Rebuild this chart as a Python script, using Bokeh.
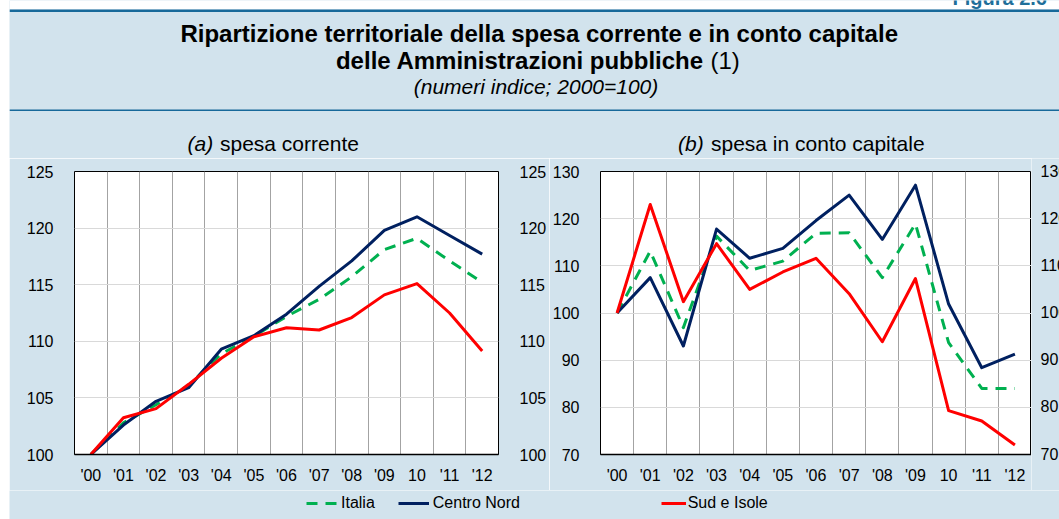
import numpy as np
from bokeh.plotting import figure
from bokeh.models import (Range1d, FixedTicker, LinearAxis, Legend, LegendItem,
                          LabelSet, ColumnDataSource, Spacer)
from bokeh.layouts import column, row
from bokeh.embed import file_html
from bokeh.resources import INLINE
from bokeh.core.properties import value

# ---------------- data ----------------
year_labels = ["'00", "'01", "'02", "'03", "'04", "'05", "'06", "'07", "'08", "'09", "10", "'11", "'12"]

corr_italia = [100, 102.8, 104.4, 106.1, 108.9, 110.45, 112.2, 113.7, 115.7, 118.1, 119.1, 117.1, 115.2]
corr_centro_nord = [100, 102.6, 104.7, 105.9, 109.3, 110.5, 112.4, 114.85, 117.1, 119.8, 121.0, 119.35, 117.7]
corr_sud_isole = [100, 103.25, 104.05, 106.2, 108.5, 110.4, 111.2, 111.0, 112.1, 114.1, 115.1, 112.5, 109.15]

cap_italia = [100, 113.1, 96.9, 116.3, 109.0, 111.0, 116.9, 117.0, 107.5, 118.9, 93.7, 84.0, 84.0]
cap_centro_nord = [100, 107.5, 93.0, 117.8, 111.6, 113.7, 119.6, 125.0, 115.6, 127.1, 101.9, 88.4, 91.3]
cap_sud_isole = [100, 123.0, 102.4, 114.7, 105.0, 108.7, 111.6, 104.1, 93.9, 107.3, 79.3, 77.1, 72.0]

corr_ticks = [100, 105, 110, 115, 120, 125]
cap_ticks = [70, 80, 90, 100, 110, 120, 130]

figure_tag = "Figura 2.6"
title_line1 = "Ripartizione territoriale della spesa corrente e in conto capitale"
title_line2 = "delle Amministrazioni pubbliche"
title_note = "(1)"
title_line3 = "(numeri indice; 2000=100)"
sub_a = ("(a)", "spesa corrente")
sub_b = ("(b)", "spesa in conto capitale")
series_names = ["Italia", "Centro Nord", "Sud e Isole"]

# ---------------- style ----------------
BG = "#D2E3ED"
LINE_BLUE = "#17699A"
GREEN = "#00B050"
NAVY = "#002060"
RED = "#FF0000"
FONT = value("Liberation Sans")
LEFT = 9          # white strip on the left
W = 1059 - LEFT   # width of the coloured box

x = list(range(len(year_labels)))

# ---------------- header ----------------
hdr = figure(width=W, height=158, x_range=Range1d(LEFT, 1059), y_range=Range1d(158, 0),
             toolbar_location=None, output_backend="svg", min_border=0,
             x_axis_location=None, y_axis_location=None)
hdr.grid.visible = False
hdr.outline_line_color = None
hdr.background_fill_color = BG
hdr.border_fill_color = BG

hdr.quad(left=[LEFT], right=[1059], top=[0], bottom=[9], fill_color="white", line_color=None)
hdr.text(x=[952], y=[-3], text=[figure_tag], text_align="left", text_baseline="alphabetic",
         text_font=FONT, text_font_style="bold", text_font_size="20px", text_color="#1F6F9A")
hdr.segment(x0=[LEFT], y0=[10.3], x1=[1059], y1=[10.3], line_color=LINE_BLUE, line_width=2.5)
hdr.segment(x0=[LEFT], y0=[109.8], x1=[1059], y1=[109.8], line_color=LINE_BLUE, line_width=1.5)

hdr.text(x=[538.7], y=[33.3], text=[title_line1], text_align="center", text_baseline="alphabetic",
         text_font=FONT, text_font_style="bold", text_font_size="24px", text_color="black")
hdr.text(x=[703.5], y=[59.6], text=[title_line2], text_align="right", text_baseline="alphabetic",
         text_font=FONT, text_font_style="bold", text_font_size="24px", text_color="black")
hdr.text(x=[710], y=[59.6], text=[title_note], text_align="left", text_baseline="alphabetic",
         text_font=FONT, text_font_size="24px", text_color="black")
hdr.text(x=[535.5], y=[85.6], text=[title_line3], text_align="center", text_baseline="alphabetic",
         text_font=FONT, text_font_style="italic", text_font_size="21px", text_color="black")

hdr.text(x=[187], y=[142.6], text=[sub_a[0]], text_align="left", text_baseline="alphabetic",
         text_font=FONT, text_font_style="italic", text_font_size="21px", text_color="black")
hdr.text(x=[219.5], y=[142.6], text=[sub_a[1]], text_align="left", text_baseline="alphabetic",
         text_font=FONT, text_font_size="21px", text_color="black")
hdr.text(x=[677.5], y=[142.6], text=[sub_b[0]], text_align="left", text_baseline="alphabetic",
         text_font=FONT, text_font_style="italic", text_font_size="21px", text_color="black")
hdr.text(x=[710.5], y=[142.6], text=[sub_b[1]], text_align="left", text_baseline="alphabetic",
         text_font=FONT, text_font_size="21px", text_color="black")


def style_panel(p, ticks):
    p.background_fill_color = "white"
    p.border_fill_color = BG
    p.outline_line_color = "black"
    p.outline_line_width = 1
    p.xaxis.ticker = FixedTicker(ticks=x)
    p.xaxis.major_label_overrides = {i: lab for i, lab in enumerate(year_labels)}
    p.xaxis.major_tick_line_color = None
    p.xaxis.minor_tick_line_color = None
    p.xaxis.axis_line_color = "black"
    p.xaxis.axis_line_width = 1.5
    p.xaxis.major_label_standoff = 6
    p.xaxis.major_label_text_font = "Liberation Sans"
    p.xaxis.major_label_text_font_size = "16px"
    p.xaxis.major_label_text_color = "black"
    p.yaxis.ticker = FixedTicker(ticks=ticks)
    p.yaxis.major_tick_line_color = None
    p.yaxis.minor_tick_line_color = None
    p.yaxis.axis_line_color = None
    p.yaxis.major_label_standoff = 15
    p.yaxis.major_label_text_font = "Liberation Sans"
    p.yaxis.major_label_text_font_size = "16px"
    p.yaxis.major_label_text_color = "black"
    p.xgrid.ticker = FixedTicker(ticks=[i + 0.5 for i in range(len(year_labels) - 1)])
    p.xgrid.grid_line_color = "#A3A3A3"
    p.xgrid.grid_line_width = 1
    p.ygrid.grid_line_color = "#D9D9D9"
    p.ygrid.grid_line_width = 1


def draw_lines(p, it, cn, sud):
    r_it = p.line(x, it, line_color=GREEN, line_width=3, line_dash="11 8", line_join="round")
    r_cn = p.line(x, cn, line_color=NAVY, line_width=3, line_join="round")
    r_sud = p.line(x, sud, line_color=RED, line_width=3, line_join="round")
    return r_it, r_cn, r_sud


# ---------------- panel (a) ----------------
fa = figure(frame_width=424, frame_height=283, min_border_left=65, min_border_right=50,
            min_border_top=13, min_border_bottom=36,
            x_range=Range1d(-0.5, len(year_labels) - 0.5), y_range=Range1d(corr_ticks[0], corr_ticks[-1]),
            toolbar_location=None, output_backend="svg")
style_panel(fa, corr_ticks)
ra = LinearAxis(ticker=FixedTicker(ticks=corr_ticks), major_tick_line_color=None,
                minor_tick_line_color=None, axis_line_color=None, major_label_standoff=15,
                major_label_text_font="Liberation Sans", major_label_text_font_size="16px",
                major_label_text_color="black")
fa.add_layout(ra, "right")
draw_lines(fa, corr_italia, corr_centro_nord, corr_sud_isole)

# ---------------- panel (b) ----------------
FB_TOP, FB_H, FB_BOT = 12, 283, 37
fb = figure(frame_width=431, frame_height=FB_H, min_border_left=50, min_border_right=0,
            min_border_top=FB_TOP, min_border_bottom=FB_BOT,
            x_range=Range1d(-0.5, len(year_labels) - 0.5), y_range=Range1d(cap_ticks[0], cap_ticks[-1]),
            toolbar_location=None, output_backend="svg")
style_panel(fb, cap_ticks)
draw_lines(fb, cap_italia, cap_centro_nord, cap_sud_isole)

# right-hand value labels of panel (b): a narrow strip on panel (b)'s value scale,
# cut by the right edge of the page as in the original
ppu = FB_H / (cap_ticks[-1] - cap_ticks[0])
fr = figure(width=30, height=FB_TOP + FB_H + FB_BOT,
            x_range=Range1d(0, 30),
            y_range=Range1d(cap_ticks[0] - FB_BOT / ppu, cap_ticks[-1] + FB_TOP / ppu),
            toolbar_location=None, output_backend="svg", min_border=0,
            x_axis_location=None, y_axis_location=None)
fr.grid.visible = False
fr.outline_line_color = None
fr.background_fill_color = BG
fr.border_fill_color = BG
rsrc = ColumnDataSource(dict(x=[0] * len(cap_ticks), y=cap_ticks, t=[str(v) for v in cap_ticks]))
fr.add_layout(LabelSet(x="x", y="y", text="t", source=rsrc, x_offset=9, text_align="left",
                       text_baseline="middle", text_font=FONT, text_font_size="16px",
                       text_color="black"))

# ---------------- legend strip ----------------
lg = figure(width=W, height=29, x_range=Range1d(0, 1), y_range=Range1d(0, 1),
            toolbar_location=None, output_backend="svg", min_border=0,
            x_axis_location=None, y_axis_location=None)
lg.grid.visible = False
lg.outline_line_color = None
lg.background_fill_color = BG
lg.border_fill_color = BG
# same series (out of this strip's view) provide the legend keys
k_it, k_cn, k_sud = draw_lines(lg, corr_italia, corr_centro_nord, corr_sud_isole)

leg_a = Legend(items=[LegendItem(label=series_names[0], renderers=[k_it]),
                      LegendItem(label=series_names[1], renderers=[k_cn])],
               location=(297, 5.7), orientation="horizontal", padding=0, margin=0,
               spacing=23, glyph_width=31, glyph_height=20, label_height=20, label_standoff=4,
               border_line_color=None, background_fill_alpha=0,
               label_text_font="Liberation Sans", label_text_font_size="16px",
               label_text_color="black")
leg_b = Legend(items=[LegendItem(label=series_names[2], renderers=[k_sud])],
               location=(651.7, 5.7), orientation="horizontal", padding=0, margin=0,
               glyph_width=25, glyph_height=20, label_height=20, label_standoff=2,
               border_line_color=None, background_fill_alpha=0,
               label_text_font="Liberation Sans", label_text_font_size="16px",
               label_text_color="black")
lg.add_layout(leg_a)
lg.add_layout(leg_b)

panels = row(fa, fb, spacing=0)
middle = row(panels, fr, spacing=0)
body = column(hdr, middle, lg, spacing=0)
layout = row(Spacer(width=LEFT, height=519), body, spacing=0)
open("out.html", "w").write(file_html(layout, INLINE))
